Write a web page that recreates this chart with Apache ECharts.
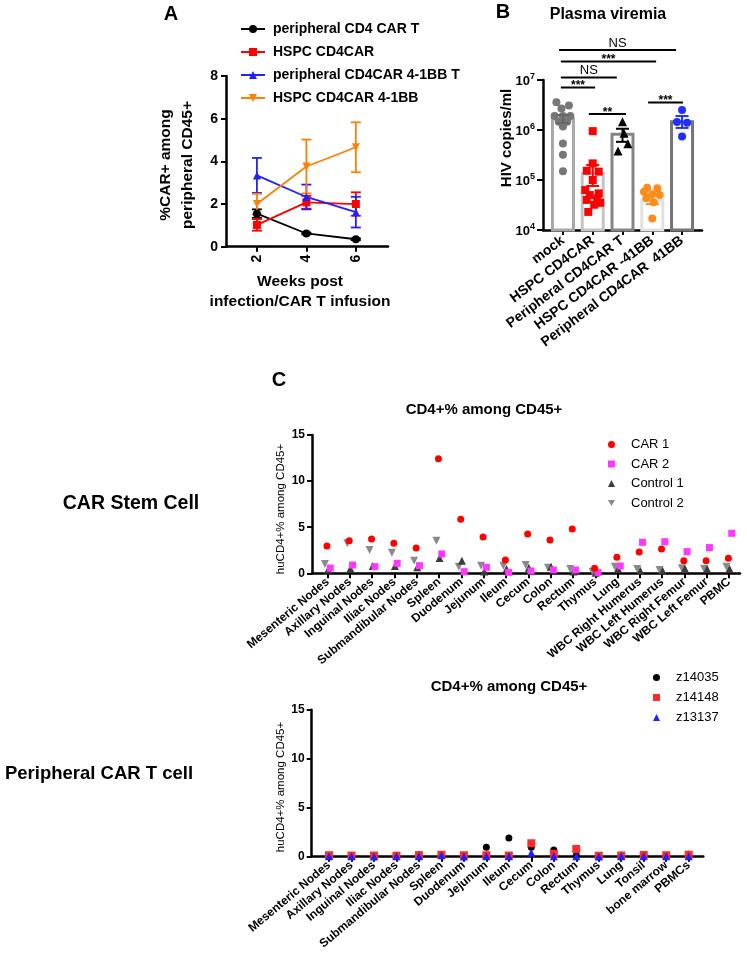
<!DOCTYPE html>
<html><head><meta charset="utf-8">
<script src="https://cdn.jsdelivr.net/npm/echarts@6/dist/echarts.min.js"></script>
<style>html,body{margin:0;padding:0;background:#fff}#c{width:747px;height:954px}</style>
</head><body><div id="c"></div>
<script>
const FONT = 'Liberation Sans, Arial, Helvetica, sans-serif';

// ---------- Panel A data ----------
const weeks = [2, 4, 6];
const aNames = ['peripheral CD4 CAR T', 'HSPC CD4CAR', 'peripheral CD4CAR 4-1BB T', 'HSPC CD4CAR 4-1BB'];
const aMeanPeriphCD4 = [1.55, 0.62, 0.35];
const aSemPeriphCD4 = [0.2, 0.04, 0.04];
const aMeanHspcCD4 = [1.02, 2.08, 2.0];
const aSemHspcCD4 = [0.27, 0.3, 0.55];
const aMeanPeriph41BB = [3.34, 2.33, 1.62];
const aSemPeriph41BB = [0.82, 0.58, 0.72];
const aMeanHspc41BB = [2.0, 3.76, 4.66];
const aSemHspc41BB = [0.48, 1.26, 1.17];

// ---------- Panel B data ----------
const bGroups = ['mock', 'HSPC CD4CAR', 'Peripheral CD4CAR T', 'HSPC CD4CAR -41BB', 'Peripheral CD4CAR  41BB'];
const bMeans = [1.66e6, 1.36e5, 8.2e5, 3.9e4, 1.47e6];
const bSemLow = [1.38e6, 7.6e4, 5.8e5, 3.3e4, 1.1e6];
const bSemHigh = [2.0e6, 2.0e5, 1.06e6, 4.9e4, 1.9e6];
const bMock = [3.6e6, 3.1e6, 2.7e6, 1.9e6, 1.9e6, 1.9e6, 1.47e6, 1.47e6, 1.17e6, 5.4e5, 3.2e5, 1.5e5];
const bMockJitter = [-0.22, 0.2, -0.05, -0.28, 0, 0.25, -0.14, 0.14, 0, 0, 0, 0];
const bHspc = [9.5e5, 2.15e5, 1.53e5, 1.47e5, 1.0e5, 6.3e4, 5.4e4, 5.0e4, 4.3e4, 4.0e4, 3.5e4, 3.2e4, 2.3e4];
const bHspcJitter = [0, 0, -0.2, 0.2, 0, -0.25, 0.2, -0.1, 0.15, -0.2, 0.25, 0.05, -0.15];
const bPeriphT = [1.47e6, 8.6e5, 5.3e5, 3.8e5];
const bPeriphTJitter = [0, 0.05, 0.18, -0.15];
const bHspc41 = [7.0e4, 6.8e4, 5.8e4, 5.2e4, 5.0e4, 4.3e4, 3.6e4, 1.7e4];
const bHspc41Jitter = [-0.17, 0.17, -0.28, 0, 0.25, -0.2, 0.05, 0];
const bPeriph41 = [2.5e6, 1.45e6, 1.4e6, 7.4e5];
const bPeriph41Jitter = [0, -0.17, 0.17, 0];
const bYTicks = [1e4, 1e5, 1e6, 1e7];
// significance brackets: [from x, to x, log10 level], labels
const bSigSpans = [[0.87, 4.8, 7.6], [0.93, 4.13, 7.37], [0.93, 2.81, 7.05], [0.93, 2.08, 6.85], [1.87, 3.12, 6.32], [3.86, 5.03, 6.55]];
const bSigLabels = ['NS', '***', 'NS', '***', '**', '***'];

// ---------- Panel C data ----------
const cTopTissues = ['Mesenteric Nodes', 'Axillary Nodes', 'Inguinal Nodes', 'Iliac Nodes', 'Submandibular Nodes', 'Spleen', 'Duodenum', 'Jejunum', 'Ileum', 'Cecum', 'Colon', 'Rectum', 'Thymus', 'Lung', 'WBC Right Humerus', 'WBC Left Humerus', 'WBC Right Femur', 'WBC Left Femur', 'PBMC'];
const cCar1 = [2.96, 3.54, 3.71, 3.25, 2.74, 12.43, 5.86, 3.94, 1.44, 4.26, 3.61, 4.8, 0.54, 1.73, 2.31, 2.64, 1.37, 1.37, 1.62];
const cCar2 = [0.56, 0.9, 0.72, 1.08, 0.83, 2.1, 0.18, 0.65, 0.1, 0.25, 0.36, 0.36, 0.1, 0.79, 3.36, 3.43, 2.35, 2.79, 4.34];
const cControl1 = [0.38, 0.51, 0.79, 0.79, 0.65, 1.66, 1.37, 0.2, 0.47, 0.61, 0.72, 0.2, 0.07, 0.51, 0.29, 0.29, 0.51, 0.47, 0.5];
const cControl2 = [1.0, 3.25, 2.53, 2.24, 1.37, 3.54, 0.72, 0.83, 0.83, 0.9, 0.61, 0.47, 0.18, 0.72, 0.47, 0.36, 0.54, 0.47, 0.72];
const cBottomTissues = ['Mesenteric Nodes', 'Axillary Nodes', 'Inguinal Nodes', 'Iliac Nodes', 'Submandibular Nodes', 'Spleen', 'Duodenum', 'Jejunum', 'Ileum', 'Cecum', 'Colon', 'Rectum', 'Thymus', 'Lung', 'Tonsil', 'bone marrow', 'PBMCs'];
const cZ14035 = [0.1, 0.08, 0.08, 0.15, 0.2, 0.22, 0.08, 0.96, 1.91, 0.96, 0.68, 0.12, 0.05, 0.15, 0.12, 0.1, 0.25];
const cZ14148 = [0.15, 0.12, 0.12, 0.1, 0.15, 0.2, 0.15, 0.15, 0.12, 1.37, 0.3, 0.79, 0.1, 0.12, 0.18, 0.15, 0.2];
const cZ13137 = [0.05, 0.05, 0.03, 0.05, 0.05, 0.15, 0.03, 0.05, 0.05, 0.41, 0.05, 0.05, 0.03, 0.05, 0.05, 0.05, 0.05];
const cYTicks = [0, 5, 10, 15];

// ---------- styles ----------
const DOWN_TRI = 'path://M0,0L10,0L5,8.66Z';
const aColors = ['#000000', '#ff0000', '#2020ff', '#ff8000'];
const aSymbols = ['circle', 'rect', 'triangle', DOWN_TRI];
const bPointColors = ['#777777', '#ff0000', '#000000', '#ff8c1a', '#1f2fff'];
const bSymbols = ['circle', 'rect', 'triangle', 'circle', 'circle'];
const bBarColors = ['#a8a8a8', '#c4c4c4', '#858585', '#e2e2e2', '#757575'];

const axisLine = {show: true, onZero: false, lineStyle: {color: '#000', width: 2.5}};
const tick = {show: true, inside: false, length: 5, lineStyle: {color: '#000', width: 2}};

function errRender(color, capHalf, lw) {
  return function (params, api) {
    const x = api.value(0), lo = api.value(1), hi = api.value(2);
    const a = api.coord([x, hi]), b = api.coord([x, lo]);
    const st = {stroke: color, lineWidth: lw};
    return {type: 'group', children: [
      {type: 'line', shape: {x1: a[0], y1: a[1], x2: b[0], y2: b[1]}, style: st},
      {type: 'line', shape: {x1: a[0] - capHalf, y1: a[1], x2: a[0] + capHalf, y2: a[1]}, style: st},
      {type: 'line', shape: {x1: b[0] - capHalf, y1: b[1], x2: b[0] + capHalf, y2: b[1]}, style: st}
    ]};
  };
}

function txt(x, y, text, size, weight, rot, lh) {
  return {type: 'text', x: x, y: y, rotation: rot || 0, z: 50,
    style: {text: text, fontSize: size, fontWeight: weight, fontFamily: FONT, fill: '#000',
      align: 'center', textAlign: 'center', verticalAlign: 'middle', textVerticalAlign: 'middle', lineHeight: lh || size * 1.3}};
}

// ---------- series ----------
const series = [];
const aMeans = [aMeanPeriphCD4, aMeanHspcCD4, aMeanPeriph41BB, aMeanHspc41BB];
const aSems = [aSemPeriphCD4, aSemHspcCD4, aSemPeriph41BB, aSemHspc41BB];
aNames.forEach(function (n, k) {
  series.push({type: 'custom', name: 'errA' + k, xAxisIndex: 0, yAxisIndex: 0, z: 3,
    renderItem: errRender(aColors[k], 5, 1.8), encode: {x: 0, y: [1, 2]},
    data: weeks.map(function (w, i) { return [w, aMeans[k][i] - aSems[k][i], aMeans[k][i] + aSems[k][i]]; })});
  series.push({type: 'line', name: n, xAxisIndex: 0, yAxisIndex: 0, z: 4,
    symbol: aSymbols[k], symbolSize: 8, showSymbol: true,
    lineStyle: {color: aColors[k], width: 1.8}, itemStyle: {color: aColors[k]},
    data: weeks.map(function (w, i) { return [w, aMeans[k][i]]; })});
});

// Panel B bars
series.push({type: 'custom', name: 'barsB', xAxisIndex: 1, yAxisIndex: 1, z: 1,
  encode: {x: 0, y: 1},
  data: bMeans.map(function (m, i) { return [i + 1, m]; }),
  renderItem: function (p, api) {
    const x = api.value(0), v = api.value(1);
    const top = api.coord([x, v]), base = api.coord([x, bYTicks[0]]);
    return {type: 'rect', shape: {x: top[0] - 10.5, y: top[1], width: 21, height: base[1] - top[1]},
      style: {fill: '#ffffff', stroke: bBarColors[p.dataIndex], lineWidth: 3}};
  }});
const bPts = [bMock, bHspc, bPeriphT, bHspc41, bPeriph41];
const bJit = [bMockJitter, bHspcJitter, bPeriphTJitter, bHspc41Jitter, bPeriph41Jitter];
bPts.forEach(function (arr, g) {
  series.push({type: 'scatter', name: 'ptsB' + g, xAxisIndex: 1, yAxisIndex: 1, z: 3,
    symbol: bSymbols[g], symbolSize: bSymbols[g] === 'triangle' ? 9 : 8,
    itemStyle: {color: bPointColors[g], opacity: 1},
    data: arr.map(function (v, i) { return [g + 1 + bJit[g][i], v]; })});
});
bGroups.forEach(function (name, g) {
  series.push({type: 'custom', name: 'errB' + g, xAxisIndex: 1, yAxisIndex: 1, z: 4,
    renderItem: errRender(bPointColors[g] === '#777777' ? '#666666' : bPointColors[g], 6.5, 2),
    encode: {x: 0, y: [1, 2]},
    data: [[g + 1, bSemLow[g], bSemHigh[g]]]});
});
series.push({type: 'custom', name: 'sigB', xAxisIndex: 1, yAxisIndex: 1, z: 5, clip: false,
  encode: {x: [0, 1]},
  data: bSigSpans,
  renderItem: function (p, api) {
    const x1 = api.value(0), x2 = api.value(1), lvl = api.value(2);
    const yv = Math.pow(10, lvl);
    const a = api.coord([x1, yv]), b = api.coord([x2, yv]);
    const lab = bSigLabels[p.dataIndex];
    const star = lab.charAt(0) === '*';
    return {type: 'group', children: [
      {type: 'line', shape: {x1: a[0], y1: a[1], x2: b[0], y2: a[1]}, style: {stroke: '#000', lineWidth: 2}},
      {type: 'text', x: (a[0] + b[0]) / 2, y: a[1] - (star ? 1.5 : 7),
        style: {text: lab, fontFamily: FONT, fontSize: star ? 12 : 13, fontWeight: star ? 'bold' : 'normal', fill: '#000',
          align: 'center', textAlign: 'center', verticalAlign: 'middle', textVerticalAlign: 'middle'}}
    ]};
  }});

// Panel C top
const cTopSeries = [
  {name: 'CAR 1', data: cCar1, color: '#ff0000', symbol: 'circle', off: -0.03, size: 7},
  {name: 'CAR 2', data: cCar2, color: '#ff38ff', symbol: 'rect', off: 0.12, size: 7},
  {name: 'Control 1', data: cControl1, color: '#3c3c3c', symbol: 'triangle', off: 0.02, size: 8},
  {name: 'Control 2', data: cControl2, color: '#8a8a8a', symbol: DOWN_TRI, off: -0.12, size: 8}
];
cTopSeries.slice().reverse().forEach(function (s) {
  series.push({type: 'scatter', name: s.name, xAxisIndex: 2, yAxisIndex: 2, symbol: s.symbol, symbolSize: s.size,
    itemStyle: {color: s.color, opacity: 1},
    data: s.data.map(function (v, i) { return [i + s.off, v]; })});
});
// Panel C bottom
const cBotSeries = [
  {name: 'z14035', data: cZ14035, color: '#000000', symbol: 'circle', size: 7},
  {name: 'z14148', data: cZ14148, color: '#ff2a2a', symbol: 'rect', size: 8},
  {name: 'z13137', data: cZ13137, color: '#2020ff', symbol: 'triangle', size: 8}
];
cBotSeries.forEach(function (s) {
  series.push({type: 'scatter', name: s.name, xAxisIndex: 3, yAxisIndex: 3, symbol: s.symbol, symbolSize: s.size,
    itemStyle: {color: s.color, opacity: 1},
    data: s.data.map(function (v, i) { return [i, v]; })});
});

const idx = function (n) { return n.map(function (_, i) { return i; }); };

const option = {
  animation: false,
  backgroundColor: '#ffffff',
  textStyle: {fontFamily: FONT, color: '#000'},
  grid: [
    {left: 226, top: 76, width: 162, height: 170.7, containLabel: false, outerBoundsMode: 'none'},
    {left: 543, top: 80, width: 159, height: 150, containLabel: false, outerBoundsMode: 'none'},
    {left: 312, top: 435, width: 428, height: 138.3, containLabel: false, outerBoundsMode: 'none'},
    {left: 311.7, top: 709.7, width: 391.6, height: 147, containLabel: false, outerBoundsMode: 'none'}
  ],
  xAxis: [
    {gridIndex: 0, type: 'value', min: 0.75, max: 7.3, axisLine: axisLine, splitLine: {show: false},
      axisTick: Object.assign({customValues: weeks}, tick),
      axisLabel: {customValues: weeks, rotate: 90, margin: 8, fontSize: 14, fontWeight: 'bold', color: '#000'}},
    {gridIndex: 1, type: 'value', min: 0.33, max: 5.67, axisLine: axisLine, splitLine: {show: false},
      axisTick: Object.assign({customValues: [1, 2, 3, 4, 5]}, tick),
      axisLabel: {customValues: [1, 2, 3, 4, 5], rotate: 37, margin: 9, fontSize: 14, fontWeight: 'bold', color: '#000',
        formatter: function (v) { return bGroups[Math.round(v) - 1]; }}},
    {gridIndex: 2, type: 'value', min: -0.7, max: 18.49, axisLine: axisLine, splitLine: {show: false},
      axisTick: Object.assign({customValues: idx(cTopTissues)}, tick),
      axisLabel: {customValues: idx(cTopTissues), rotate: 40, margin: 7, fontSize: 12, fontWeight: 'bold', color: '#000',
        formatter: function (v) { return cTopTissues[Math.round(v)]; }}},
    {gridIndex: 3, type: 'value', min: -0.77, max: 16.65, axisLine: axisLine, splitLine: {show: false},
      axisTick: Object.assign({customValues: idx(cBottomTissues)}, tick),
      axisLabel: {customValues: idx(cBottomTissues), rotate: 40, margin: 7, fontSize: 12, fontWeight: 'bold', color: '#000',
        formatter: function (v) { return cBottomTissues[Math.round(v)]; }}}
  ],
  yAxis: [
    {gridIndex: 0, type: 'value', min: 0, max: 8, interval: 2, axisLine: axisLine, axisTick: tick, splitLine: {show: false},
      axisLabel: {margin: 8, fontSize: 14, fontWeight: 'bold', color: '#000'}},
    {gridIndex: 1, type: 'log', logBase: 10, min: bYTicks[0], max: bYTicks[bYTicks.length - 1], axisLine: axisLine,
      axisTick: Object.assign({}, tick, {length: 6}), splitLine: {show: false}, minorTick: {show: false},
      axisLabel: {margin: 8, color: '#000',
        formatter: function (v) { return '{b|10}{s|' + Math.round(Math.log10(v)) + '}'; },
        rich: {b: {fontSize: 13, fontWeight: 'bold', fontFamily: FONT, lineHeight: 16, verticalAlign: 'bottom'},
               s: {fontSize: 9, fontWeight: 'bold', fontFamily: FONT, lineHeight: 16, verticalAlign: 'top', padding: [0, 0, 0, 0]}}}},
    {gridIndex: 2, type: 'value', min: cYTicks[0], max: cYTicks[cYTicks.length - 1], interval: 5, axisLine: axisLine, axisTick: tick,
      splitLine: {show: false}, axisLabel: {margin: 7, fontSize: 12, fontWeight: 'bold', color: '#000'}},
    {gridIndex: 3, type: 'value', min: cYTicks[0], max: cYTicks[cYTicks.length - 1], interval: 5, axisLine: axisLine, axisTick: tick,
      splitLine: {show: false}, axisLabel: {margin: 7, fontSize: 12, fontWeight: 'bold', color: '#000'}}
  ],
  legend: [
    {data: aNames, orient: 'vertical', left: 240, top: 22, padding: 0, itemWidth: 24, itemHeight: 10, itemGap: 9,
      selectedMode: false, textStyle: {fontSize: 14, fontWeight: 'bold', color: '#000', padding: [0, 0, 0, 3]}},
    {data: ['CAR 1', 'CAR 2', 'Control 1', 'Control 2'], orient: 'vertical', left: 608, top: 438, padding: 0, itemWidth: 7, itemHeight: 7,
      itemGap: 6.5, selectedMode: false, textStyle: {fontSize: 13, color: '#000', padding: [0, 0, 0, 11]}},
    {data: ['z14035', 'z14148', 'z13137'], orient: 'vertical', left: 653, top: 671, padding: 0, itemWidth: 7, itemHeight: 7,
      itemGap: 7, selectedMode: false, textStyle: {fontSize: 13, color: '#000', padding: [0, 0, 0, 11]}}
  ],
  series: series,
  graphic: [
    txt(171, 14, 'A', 20, 'bold'),
    txt(503, 12, 'B', 20, 'bold'),
    txt(279, 380, 'C', 20, 'bold'),
    txt(177, 165, '%CAR+ among\nperipheral CD45+', 15.5, 'bold', Math.PI / 2, 22),
    txt(300, 292, 'Weeks post\ninfection/CAR T infusion', 15.5, 'bold', 0, 20),
    txt(507, 138, 'HIV copies/ml', 15, 'bold', Math.PI / 2),
    txt(608, 15, 'Plasma viremia', 16, 'bold'),
    txt(484, 410, 'CD4+% among CD45+', 15, 'bold'),
    txt(509, 687, 'CD4+% among CD45+', 15, 'bold'),
    txt(281, 509, 'huCD4+% among CD45+', 11.5, 'normal', Math.PI / 2),
    txt(281, 787, 'huCD4+% among CD45+', 11.5, 'normal', Math.PI / 2),
    txt(131, 504, 'CAR Stem Cell', 19.5, 'bold'),
    txt(99, 774, 'Peripheral CAR T cell', 18.5, 'bold')
  ]
};

const chart = echarts.init(document.getElementById('c'), null, {renderer: 'canvas', width: 747, height: 954});
chart.setOption(option);
</script>
</body></html>
